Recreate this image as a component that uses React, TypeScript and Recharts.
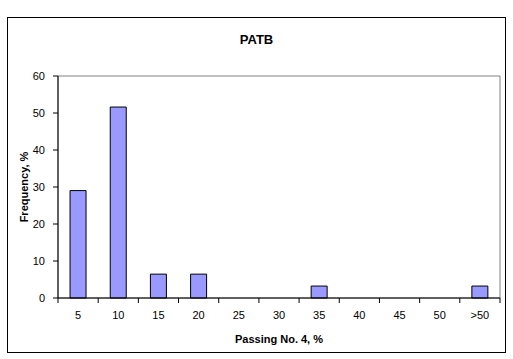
import { BarChart, Bar, XAxis, YAxis, ReferenceArea } from 'recharts'

const categories = ['5', '10', '15', '20', '25', '30', '35', '40', '45', '50', '>50']
const frequency = [29.03, 51.61, 6.45, 6.45, 0, 0, 3.23, 0, 0, 0, 3.23]
const yTicks = [0, 10, 20, 30, 40, 50, 60]

const FONT = 'Arial, "Liberation Sans", sans-serif'

// category tick: label at the centre, tick mark at the left edge of the band
// (and the right edge for the last one), the way Excel draws it
function BinTick(props: any) {
  const { x, y, payload, index, visibleTicksCount } = props
  const half = payload?.offset ?? 0
  const top = y - 6
  return (
    <g>
      <line x1={x - half} x2={x - half} y1={top} y2={top + 5} stroke="#000" />
      {index === visibleTicksCount - 1 && (
        <line x1={x + half} x2={x + half} y1={top} y2={top + 5} stroke="#000" />
      )}
      <text x={x} y={y + 15} textAnchor="middle" fill="#000" fontSize={11} fontFamily={FONT}>
        {payload.value}
      </text>
    </g>
  )
}

export default function App() {
  const data = categories.map((c, i) => ({ bin: c, value: frequency[i] }))

  return (
    <div
      style={{
        position: 'absolute',
        left: 7,
        top: 17,
        width: 499,
        height: 336,
        border: '1px solid #000',
        boxSizing: 'border-box',
        background: '#fff',
        fontFamily: FONT,
      }}
    >
      <div
        style={{
          position: 'absolute',
          top: 14,
          left: 0,
          width: '100%',
          textAlign: 'center',
          fontWeight: 'bold',
          fontSize: 13,
        }}
      >
        PATB
      </div>
      <BarChart
        width={497}
        height={334}
        data={data}
        margin={{ top: 58, right: 5, left: 0, bottom: 0 }}
        barCategoryGap="30%"
      >
        <ReferenceArea
          x1="5"
          x2=">50"
          y1={0}
          y2={60}
          fill="none"
          stroke="#808080"
          strokeWidth={1}
        />
        <XAxis
          dataKey="bin"
          height={54}
          axisLine={{ stroke: '#000' }}
          tickLine={false}
          tickSize={6}
          tickMargin={0}
          interval={0}
          tick={<BinTick />}
          label={{
            value: 'Passing No. 4, %',
            position: 'insideBottom',
            offset: 9,
            style: { fill: '#000', fontSize: 11, fontWeight: 'bold', fontFamily: FONT },
          }}
        />
        <YAxis
          domain={[0, 60]}
          ticks={yTicks}
          width={50}
          tickSize={5}
          tickMargin={8}
          axisLine={{ stroke: '#000' }}
          tickLine={{ stroke: '#000' }}
          tick={{ fill: '#000', fontSize: 11, fontFamily: FONT }}
          label={{
            value: 'Frequency, %',
            angle: -90,
            position: 'insideLeft',
            offset: 16,
            style: { fill: '#000', fontSize: 11, fontWeight: 'bold', fontFamily: FONT, textAnchor: 'middle' },
          }}
        />
        <Bar
          dataKey="value"
          fill="#9999FF"
          stroke="#000"
          strokeWidth={1}
          isAnimationActive={false}
        />
      </BarChart>
    </div>
  )
}
